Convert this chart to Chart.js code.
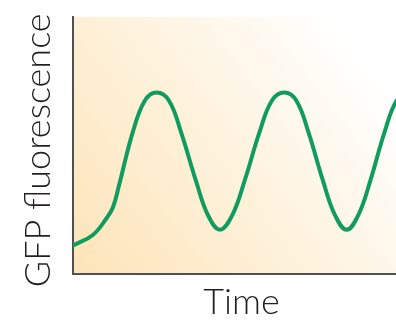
<!DOCTYPE html>
<html>
<head>
<meta charset="utf-8">
<script src="https://cdn.jsdelivr.net/npm/chart.js@4/dist/chart.umd.min.js"></script>
<style>
html,body{margin:0;padding:0;background:#ffffff;overflow:hidden;}
#wrap{width:396px;height:324px;overflow:hidden;position:relative;}
#c{position:absolute;left:0;top:0;}
</style>
</head>
<body>
<div id="wrap"><canvas id="c" width="410" height="324"></canvas></div>
<script>
// Time (arbitrary units, 0-100)
const times = [0, 5.9, 10.0, 11.9, 13.7, 17.7, 21.3, 24.8, 28.5, 32.1, 36.4, 40.0, 43.6,
  47.3, 51.0, 55.3, 59.0, 62.7, 66.3, 69.9, 74.1, 77.7, 81.2, 84.7, 88.3, 92.4, 96.0, 99.6];
// GFP fluorescence (arbitrary units, 0-100)
const gfp = [11.1, 15.2, 21.8, 26.1, 34.7, 55.0, 67.4, 70.6, 67.4, 55.0, 36.6, 23.0, 17.2,
  23.0, 36.6, 55.0, 67.4, 70.6, 67.4, 55.0, 36.6, 23.0, 17.2, 23.0, 36.6, 55.0, 67.4, 70.6];
const xTitle = 'Time';
const yTitle = 'GFP fluorescence ';

const points = times.map((t, i) => ({x: t, y: gfp[i]}));

const bgPlugin = {
  id: 'bg',
  beforeDraw(chart) {
    const {ctx, chartArea: a} = chart;
    const g = ctx.createLinearGradient(a.left, a.bottom, a.right, a.top);
    g.addColorStop(0, '#fde4b8');
    g.addColorStop(0.45, '#fef2dc');
    g.addColorStop(0.85, '#ffffff');
    g.addColorStop(1, '#ffffff');
    ctx.save();
    ctx.fillStyle = g;
    ctx.fillRect(a.left, a.top, a.right - a.left, a.bottom - a.top);
    ctx.restore();
  }
};

new Chart(document.getElementById('c'), {
  type: 'line',
  data: {
    datasets: [{
      data: points,
      borderColor: '#119c5f',
      borderWidth: 4,
      pointRadius: 0,
      fill: false,
      tension: 0.4,
      borderCapStyle: 'round'
    }]
  },
  options: {
    responsive: false,
    animation: false,
    devicePixelRatio: 1,
    layout: {padding: {top: 17, right: 0, left: 0, bottom: 0}},
    plugins: {legend: {display: false}, tooltip: {enabled: false}},
    scales: {
      x: {
        type: 'linear', min: 0, max: 100,
        grid: {display: false},
        ticks: {display: false},
        border: {display: true, color: '#505050', width: 2},
        title: {display: true, text: xTitle, color: '#231f20',
          font: {family: 'Lato', size: 36, weight: 300, lineHeight: 1},
          padding: {top: 0, bottom: 4}},
        afterFit(s) { s.height = 50; }
      },
      y: {
        min: 0, max: 100,
        grid: {display: false},
        ticks: {display: false},
        border: {display: true, color: '#505050', width: 2},
        title: {display: true, text: yTitle, color: '#231f20',
          font: {family: 'Lato', size: 36, weight: 300, lineHeight: 1},
          padding: {top: 20, bottom: 0}},
        afterFit(s) { s.width = 73; }
      }
    }
  },
  plugins: [bgPlugin]
});
</script>
</body>
</html>
